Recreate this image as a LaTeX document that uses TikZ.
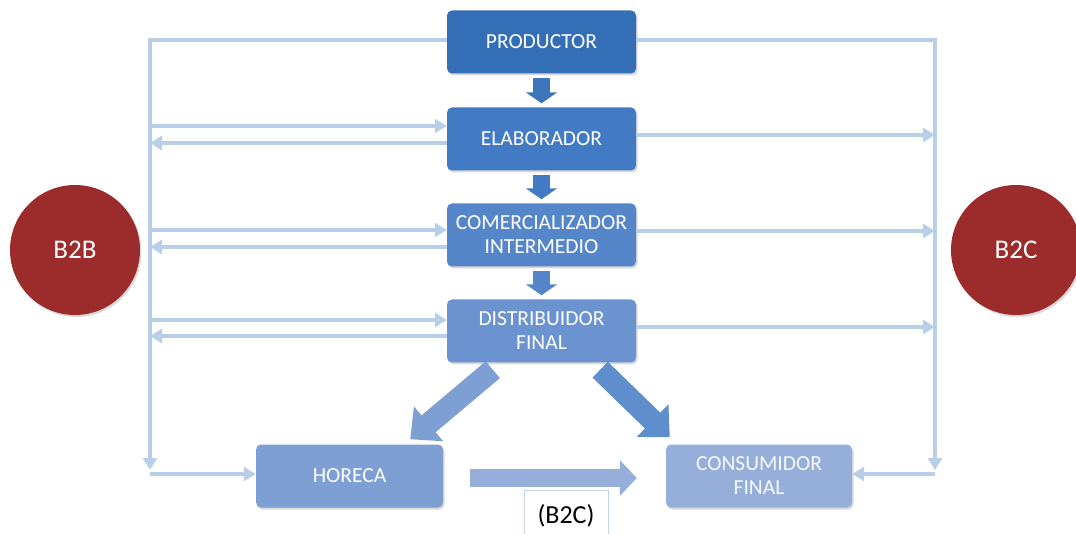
\documentclass[tikz,border=0pt]{standalone}
\usepackage{fontspec}
\setmainfont{Carlito}
\usetikzlibrary{arrows.meta,calc,shadows}
\definecolor{prodC}{HTML}{336EB7}
\definecolor{elabC}{HTML}{427AC3}
\definecolor{comerC}{HTML}{5686CA}
\definecolor{distC}{HTML}{6A93CF}
\definecolor{horC}{HTML}{7E9FD3}
\definecolor{consC}{HTML}{95AEDA}
\definecolor{railC}{HTML}{B9CEE7}
\definecolor{redC}{HTML}{9C2B2B}
\definecolor{lblC}{HTML}{C5D3E6}
\tikzset{
  box/.style={rounded corners=5pt,minimum width=189pt,minimum height=63pt,
    text=white,align=center,font=\fontsize{21.5}{24}\selectfont,
    drop shadow={shadow xshift=1.5pt,shadow yshift=-2pt,opacity=.3}},
  market/.style={circle,fill=redC,minimum size=130pt,text=white,
    font=\fontsize{27}{30}\selectfont,
    drop shadow={shadow xshift=1.5pt,shadow yshift=-2pt,opacity=.3}},
  rail/.style={draw=railC,line width=4pt,-{Triangle[length=12pt,width=14pt]}},
  dnarrow/.style={line width=17pt,-{Triangle[length=11pt,width=31pt]},
    shorten <=4pt,shorten >=4pt},
  slant/.style={line width=22pt,-{Triangle[length=24pt,width=44pt]}},
}
\begin{document}
\begin{tikzpicture}[x=1pt,y=-1pt]
\useasboundingbox (0,0) rectangle (1076,534);
% chain of agents
\node[box,fill=prodC] (prod) at (541.5,42) {PRODUCTOR};
\node[box,fill=elabC] (elab) at (541.5,139) {ELABORADOR};
\node[box,fill=comerC] (comer) at (541.5,235) {COMERCIALIZADOR\\INTERMEDIO};
\node[box,fill=distC] (dist) at (541.5,331) {DISTRIBUIDOR\\FINAL};
\node[box,fill=horC,minimum width=187pt] (hor) at (349.5,476) {HORECA};
\node[box,fill=consC,minimum width=186pt,text=white!92!consC] (cons) at (759,476) {CONSUMIDOR\\FINAL};
\node[market] (b2b) at (75,250) {B2B};
\node[market] (b2c) at (1016,250) {B2C};
% block arrows
\draw[dnarrow,draw=prodC!95!white] (prod.south) -- (elab.north);
\draw[dnarrow,draw=elabC] (elab.south) -- (comer.north);
\draw[dnarrow,draw=comerC] (comer.south) -- (dist.north);
\draw[slant,draw=horC] ($(dist.south west)+(46,7)$) -- ($(hor.north east)+(-33,-5)$);
\draw[slant,draw=elabC!85!white] ($(dist.south east)+(-36,7)$) -- ($(cons.north west)+(4,-7)$);
\draw[line width=18pt,draw=consC,-{Triangle[length=17pt,width=35pt]}]
  ($(hor.east)+(27,2)$) -- ($(cons.west)+(-29,2)$);
\node[draw=lblC,line width=.6pt,minimum width=84pt,minimum height=52pt,
  font=\fontsize{26}{28}\selectfont] (lbl) at (566,516) {(B2C)};
% left rail
\coordinate (lbot) at (150,470);
\draw[rail] ([yshift=2pt]prod.west) -| (lbot);
\foreach \b/\u/\l in {elab/13pt/-4pt,comer/5pt/-12pt,dist/11pt/-5pt}{
  \coordinate (pin) at ([yshift=\u]\b.west);
  \coordinate (pout) at ([yshift=\l]\b.west);
  \draw[rail] (lbot |- pin) -- (pin);
  \draw[rail] (pout) -- (lbot |- pout);
}
\coordinate (hin) at ([yshift=2pt]hor.west);
\draw[rail] (lbot |- hin) -- (hin);
% right rail
\coordinate (rbot) at (935,470);
\draw[rail] ([yshift=2pt]prod.east) -| (rbot);
\foreach \b in {elab,comer,dist}{
  \coordinate (q) at ([yshift=4pt]\b.east);
  \draw[rail] (q) -- (rbot |- q);
}
\coordinate (cin) at ([yshift=2pt]cons.east);
\draw[rail] (rbot |- cin) -- (cin);
\end{tikzpicture}
\end{document}
